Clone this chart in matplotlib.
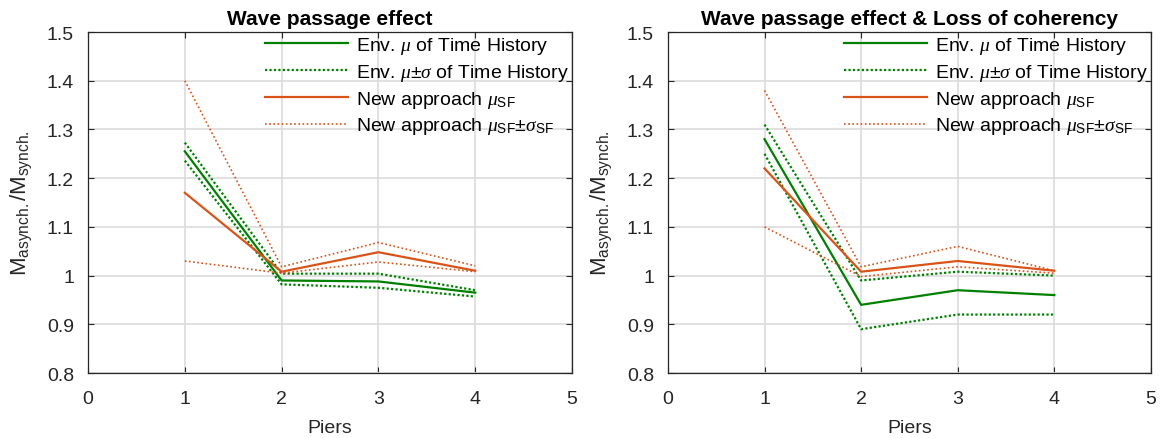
import matplotlib
matplotlib.use("Agg")
import matplotlib.pyplot as plt

plt.rcParams['font.family'] = ['Liberation Sans', 'DejaVu Sans']
plt.rcParams['mathtext.fontset'] = 'custom'
plt.rcParams['mathtext.rm'] = 'Liberation Sans'
plt.rcParams['mathtext.it'] = 'Liberation Serif:italic'
plt.rcParams['mathtext.bf'] = 'Liberation Sans:bold'

piers = [1, 2, 3, 4]

# Left: Wave passage effect
L_th_mean = [1.255, 0.99, 0.988, 0.965]
L_th_upper = [1.273, 1.004, 1.004, 0.970]
L_th_lower = [1.236, 0.982, 0.975, 0.957]
L_sf_mean = [1.17, 1.008, 1.048, 1.01]
L_sf_upper = [1.40, 1.018, 1.068, 1.02]
L_sf_lower = [1.03, 1.005, 1.028, 1.008]

# Right: Wave passage effect & loss of coherency
R_th_mean = [1.28, 0.94, 0.97, 0.96]
R_th_upper = [1.31, 0.99, 1.008, 1.0]
R_th_lower = [1.25, 0.89, 0.92, 0.92]
R_sf_mean = [1.22, 1.008, 1.03, 1.01]
R_sf_upper = [1.38, 1.018, 1.06, 1.01]
R_sf_lower = [1.10, 0.998, 1.018, 1.005]

titles = ['Wave passage effect', 'Wave passage effect & Loss of coherency']
xticks = [0, 1, 2, 3, 4, 5]
yticks = [0.8, 0.9, 1.0, 1.1, 1.2, 1.3, 1.4, 1.5]
ytick_labels = ['0.8', '0.9', '1', '1.1', '1.2', '1.3', '1.4', '1.5']

green = '#008000'
orange = '#D95319'

fig = plt.figure(figsize=(11.61, 4.39), dpi=100)
ax1 = fig.add_axes([0.0758, 0.148, 0.4169, 0.7768])
ax2 = fig.add_axes([0.5753, 0.148, 0.416, 0.7768])

datasets = [
    (ax1, L_th_mean, L_th_upper, L_th_lower, L_sf_mean, L_sf_upper, L_sf_lower, titles[0]),
    (ax2, R_th_mean, R_th_upper, R_th_lower, R_sf_mean, R_sf_upper, R_sf_lower, titles[1]),
]

for ax, thm, thu, thl, sfm, sfu, sfl, title in datasets:
    ax.plot(piers, thm, color=green, lw=1.6, label=r'Env. $\mu$ of Time History')
    ax.plot(piers, thu, color=green, lw=1.6, ls=(0, (1, 1)), label=r'Env. $\mu$±$\sigma$ of Time History')
    ax.plot(piers, thl, color=green, lw=1.6, ls=(0, (1, 1)))
    ax.plot(piers, sfm, color=orange, lw=1.6, label=r'New approach $\mu_{\mathrm{SF}}$')
    ax.plot(piers, sfu, color=orange, lw=1.2, ls=(0, (1, 1.5)), label=r'New approach $\mu_{\mathrm{SF}}$±$\sigma_{\mathrm{SF}}$')
    ax.plot(piers, sfl, color=orange, lw=1.2, ls=(0, (1, 1.5)))
    ax.set_xlim(0, 5)
    ax.set_ylim(0.8, 1.5)
    ax.set_xticks(xticks)
    ax.set_yticks(yticks)
    ax.set_yticklabels(ytick_labels)
    ax.grid(True, color='#dcdcdc', lw=1.2)
    ax.set_axisbelow(True)
    ax.tick_params(direction='in', labelsize=14, colors='#262626', length=4,
                   top=True, right=True)
    ax.tick_params(axis='x', pad=12)
    ax.tick_params(axis='y', pad=10)
    for s in ax.spines.values():
        s.set_color('#262626')
        s.set_linewidth(0.9)
    ax.set_title(title, fontsize=15, fontweight='bold', pad=6)
    ax.set_xlabel('Piers', fontsize=14, color='#262626', labelpad=9)
    ax.set_ylabel(r'M$_{\mathrm{asynch.}}$/M$_{\mathrm{synch.}}$', fontsize=16, color='#262626', labelpad=9)
    leg = ax.legend(loc='upper right', frameon=False, fontsize=14, handlelength=4.3,
                    borderaxespad=0.0, borderpad=0.15, labelspacing=0.3, handletextpad=0.4)

fig.savefig('out.png', dpi=100)
